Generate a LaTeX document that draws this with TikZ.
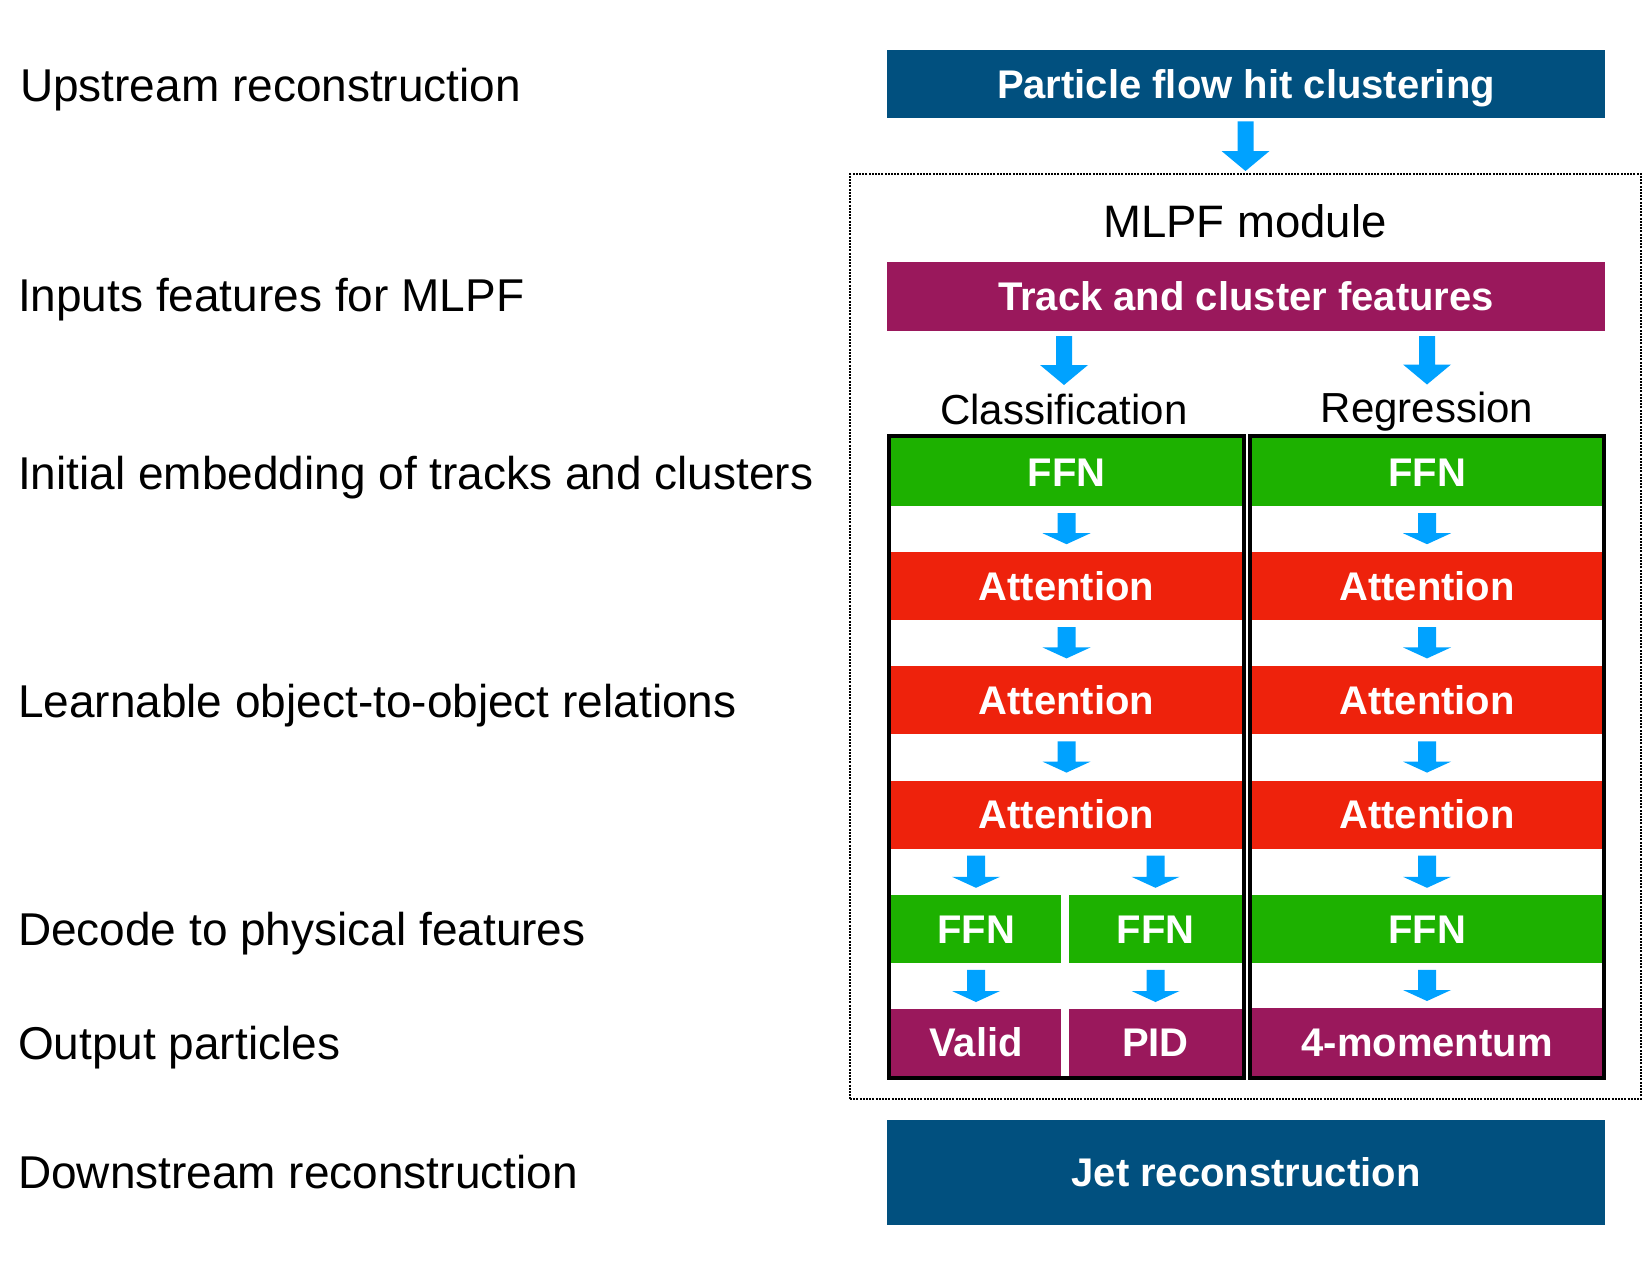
\documentclass[tikz,border=0pt]{standalone}
\usepackage{fontspec}
\setmainfont{Liberation Sans}
\usetikzlibrary{calc}
\definecolor{pfblue}{RGB}{1,80,127}
\definecolor{pfpurple}{RGB}{154,24,92}
\definecolor{ffngreen}{RGB}{29,177,0}
\definecolor{attred}{RGB}{238,34,12}
\definecolor{arrowc}{RGB}{0,162,255}
\tikzset{
  lab/.style={anchor=base west, inner sep=0pt, outer sep=0pt, font=\fontsize{46}{55}\selectfont},
  title/.style={inner sep=0pt, outer sep=0pt, font=\fontsize{45.5}{54}\selectfont, text height=32.4pt, text depth=0pt},
  sub/.style={inner sep=0pt, outer sep=0pt, font=\fontsize{42}{50}\selectfont, text height=30pt, text depth=0pt},
  box/.style={rectangle, inner sep=0pt, outer sep=0pt, text=white, font=\bfseries\fontsize{40}{48}\selectfont, text height=28.6pt, text depth=0pt},
  rowL/.style={box, minimum width=351pt, minimum height=68pt},
  rowR/.style={box, minimum width=350pt, minimum height=68pt},
  halfL/.style={box, minimum width=170pt, minimum height=68pt},
  halfR/.style={box, minimum width=173pt, minimum height=68pt},
  wide/.style={box, minimum width=718pt},
  colframe/.style={rectangle, draw=black, line width=4pt, inner sep=0pt, outer sep=0pt, minimum height=642pt},
  modframe/.style={rectangle, draw=black, line width=1.6pt, dash pattern=on 2pt off 1.2pt, inner sep=0pt, outer sep=0pt, minimum width=791pt, minimum height=925pt}
}
% block arrow from node #1 to node #2: gap at start, gap at end, head length, half shaft width, half head width
\newcommand{\barrow}[7]{%
  \fill[arrowc] let \p1=(#1.south), \p2=(#2.north) in
    (\x2-#6,\y1-#3) -- (\x2+#6,\y1-#3) -- (\x2+#6,\y2+#4+#5) -- (\x2+#7,\y2+#4+#5)
    -- (\x2,\y2+#4) -- (\x2-#7,\y2+#4+#5) -- (\x2-#6,\y2+#4+#5) -- cycle;}
\begin{document}
\begin{tikzpicture}[x=1pt,y=-1pt]
\fill[white] (0,0) rectangle (1651,1275);
\useasboundingbox (0,0) rectangle (1651,1275);

% left labels
\node[lab] (lUp) at (20,101) {Upstream reconstruction};
\node[lab] (lIn) at (18,311.7) {Inputs features for MLPF};
\node[lab] (lInit) at (18,489) {Initial embedding of tracks and clusters};
\node[lab] (lLearn) at (18,717) {Learnable object-to-object relations};
\node[lab] (lDec) at (18,945) {Decode to physical features};
\node[lab] (lOut) at (18,1059) {Output particles};
\node[lab] (lDown) at (18,1188) {Downstream reconstruction};

% module frame
\node[modframe] (mlpf) at (1245.5,636.5) {};
\node[title] (mlpft) at (1245,221) {MLPF module};

% top / bottom boxes
\node[wide, fill=pfblue, minimum height=68pt] (pfc) at (1246,84) {Particle flow hit clustering};
\node[wide, fill=pfpurple, minimum height=69pt] (tcf) at (1246,296.5) {Track and cluster features};
\node[wide, fill=pfblue, minimum height=105pt] (jet) at (1246,1172.5) {Jet reconstruction};

\node[sub] (cls) at (1064,409) {Classification};
\node[sub] (reg) at (1427,407.5) {Regression};

% classification column
\node[rowL, fill=ffngreen] (cF1) at (1066.5,472) {FFN};
\node[rowL, fill=attred] (cA1) at (1066.5,586.2) {Attention};
\node[rowL, fill=attred] (cA2) at (1066.5,700.4) {Attention};
\node[rowL, fill=attred] (cA3) at (1066.5,814.6) {Attention};
\node[halfL, fill=ffngreen] (cF2a) at (976,928.8) {FFN};
\node[halfR, fill=ffngreen] (cF2b) at (1155.5,928.8) {FFN};
\node[halfL, fill=pfpurple, minimum height=67pt] (cVal) at (976,1042.5) {Valid};
\node[halfR, fill=pfpurple, minimum height=67pt] (cPID) at (1155.5,1042.5) {PID};

% regression column
\node[rowR, fill=ffngreen] (rF1) at (1427,472) {FFN};
\node[rowR, fill=attred] (rA1) at (1427,586.2) {Attention};
\node[rowR, fill=attred] (rA2) at (1427,700.4) {Attention};
\node[rowR, fill=attred] (rA3) at (1427,814.6) {Attention};
\node[rowR, fill=ffngreen] (rF2) at (1427,928.8) {FFN};
\node[rowR, fill=pfpurple, minimum height=68pt] (rMom) at (1427,1042) {4-momentum};

% column frames
\node[colframe, minimum width=355pt] (cfr) at (1066.5,757) {};
\node[colframe, minimum width=354pt] (rfr) at (1427,757) {};

% arrows
\barrow{pfc}{mlpf}{3.3pt}{3pt}{20pt}{8pt}{24pt}
\barrow{tcf}{cls}{5pt}{9pt}{20pt}{8pt}{24pt}
\barrow{tcf}{reg}{5pt}{8pt}{20pt}{8pt}{24pt}

\barrow{cF1}{cA1}{7pt}{8pt}{11pt}{9pt}{24pt}
\barrow{cA1}{cA2}{7pt}{8pt}{11pt}{9pt}{24pt}
\barrow{cA2}{cA3}{7pt}{8pt}{11pt}{9pt}{24pt}
\barrow{cA3}{cF2a}{7pt}{7pt}{11pt}{9pt}{24pt}
\barrow{cA3}{cF2b}{7pt}{7pt}{11pt}{9pt}{24pt}
\barrow{cF2a}{cVal}{7pt}{7pt}{11pt}{9pt}{24pt}
\barrow{cF2b}{cPID}{7pt}{7pt}{11pt}{9pt}{24pt}

\barrow{rF1}{rA1}{7pt}{8pt}{11pt}{9pt}{24pt}
\barrow{rA1}{rA2}{7pt}{8pt}{11pt}{9pt}{24pt}
\barrow{rA2}{rA3}{7pt}{8pt}{11pt}{9pt}{24pt}
\barrow{rA3}{rF2}{7pt}{7pt}{11pt}{9pt}{24pt}
\barrow{rF2}{rMom}{7pt}{7pt}{11pt}{9pt}{24pt}
\end{tikzpicture}
\end{document}
